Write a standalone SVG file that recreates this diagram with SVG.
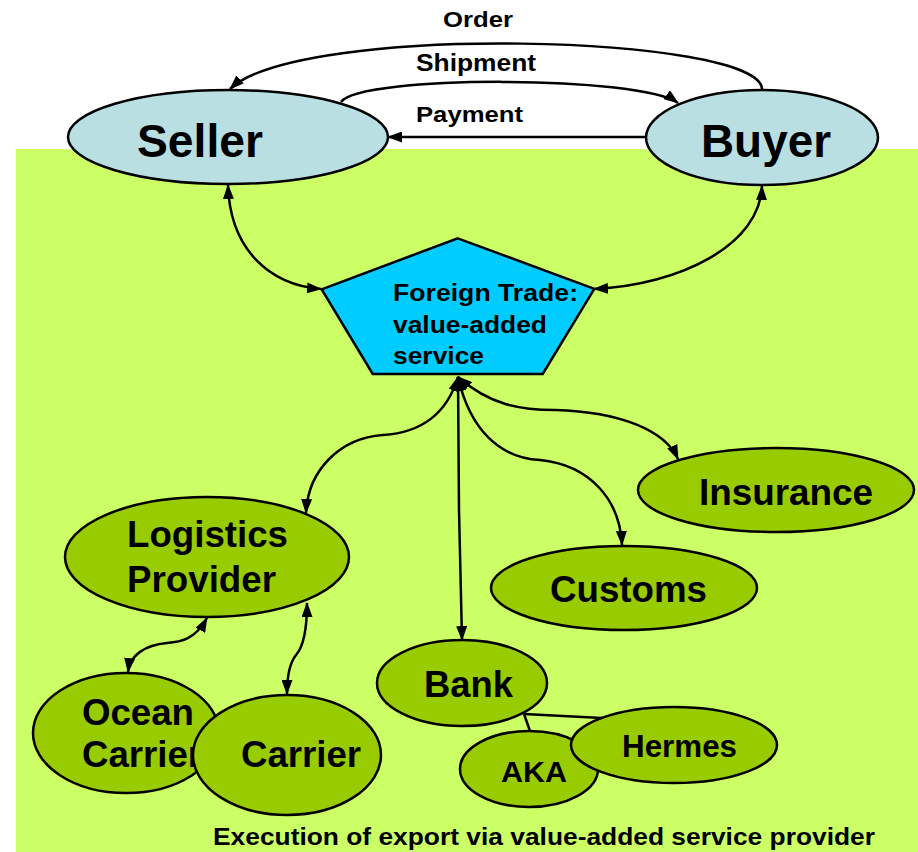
<svg xmlns="http://www.w3.org/2000/svg" width="918" height="852" viewBox="0 0 918 852">
<defs>
<marker id="ah" viewBox="0 0 15 11" refX="14" refY="5.5" markerWidth="15" markerHeight="11" markerUnits="userSpaceOnUse" orient="auto-start-reverse">
<path d="M0,0 L15,5.5 L0,11 z" fill="#000"/>
</marker>
<style>
.t{font-family:"Liberation Sans",Arial,sans-serif;font-weight:bold;fill:#000}
.top{fill:#B9DFE3;stroke:#000;stroke-width:2.5}
.g{fill:#99CC00;stroke:#000;stroke-width:2.5}
.c{fill:none;stroke:#000;stroke-width:2.5}
.a2{marker-start:url(#ah);marker-end:url(#ah)}
.a1{marker-end:url(#ah)}
</style>
</defs>
<rect x="0" y="0" width="918" height="852" fill="#FFFFFF"/>
<rect id="area" x="16" y="149" width="902" height="703" fill="#CCFF66"/>
<g id="seller"><ellipse class="top" cx="228" cy="137" rx="160" ry="47"/><text class="t" x="137" y="157" font-size="46" textLength="126" lengthAdjust="spacingAndGlyphs">Seller</text></g>
<g id="buyer"><ellipse class="top" cx="762" cy="137.5" rx="116" ry="47.5"/><text class="t" x="701" y="157" font-size="46" textLength="130" lengthAdjust="spacingAndGlyphs">Buyer</text></g>
<g id="foreign-trade"><polygon points="457.7,238.3 594.3,288.8 542.7,374 372.7,374 321.7,289.3" fill="#00CCFF" stroke="#000" stroke-width="2.5"/>
<text class="t" font-size="24"><tspan x="393" y="301" textLength="185" lengthAdjust="spacingAndGlyphs">Foreign Trade:</tspan><tspan x="393" y="333" textLength="154" lengthAdjust="spacingAndGlyphs">value-added</tspan><tspan x="393" y="364" textLength="91" lengthAdjust="spacingAndGlyphs">service</tspan></text></g>
<g id="logistics"><ellipse class="g" cx="207" cy="557" rx="142" ry="60"/><text class="t" font-size="36"><tspan x="127" y="547" textLength="161" lengthAdjust="spacingAndGlyphs">Logistics</tspan><tspan x="127" y="592" textLength="149" lengthAdjust="spacingAndGlyphs">Provider</tspan></text></g>
<g id="insurance"><ellipse class="g" cx="776" cy="490" rx="138" ry="42"/><text class="t" x="699" y="505" font-size="36" textLength="174" lengthAdjust="spacingAndGlyphs">Insurance</text></g>
<g id="customs"><ellipse class="g" cx="624" cy="588" rx="133" ry="42"/><text class="t" x="550" y="602" font-size="36" textLength="157" lengthAdjust="spacingAndGlyphs">Customs</text></g>
<g id="bank"><ellipse class="g" cx="462" cy="683" rx="85" ry="43"/><text class="t" x="424" y="697" font-size="36" textLength="89" lengthAdjust="spacingAndGlyphs">Bank</text></g>
<g id="ocean-carrier"><ellipse class="g" cx="126" cy="733" rx="93" ry="60"/><text class="t" font-size="36"><tspan x="82" y="725" textLength="112" lengthAdjust="spacingAndGlyphs">Ocean</tspan><tspan x="82" y="767" textLength="120" lengthAdjust="spacingAndGlyphs">Carrier</tspan></text></g>
<g id="carrier"><ellipse class="g" cx="287" cy="755" rx="94" ry="60"/><text class="t" x="241" y="767" font-size="36" textLength="120" lengthAdjust="spacingAndGlyphs">Carrier</text></g>
<g id="aka"><ellipse class="g" cx="529" cy="769" rx="69" ry="38"/><text class="t" x="501" y="782" font-size="30" textLength="66" lengthAdjust="spacingAndGlyphs">AKA</text></g>
<g id="hermes"><ellipse class="g" cx="674" cy="745" rx="103" ry="38"/><text class="t" x="622" y="757" font-size="31" textLength="115" lengthAdjust="spacingAndGlyphs">Hermes</text></g>
<g id="connectors">
<path class="c a1" d="M762,89 C760,35 300,22 230,89"/>
<path class="c a1" d="M341,102 C360,75 640,75 678,103"/>
<path class="c a1" d="M646,137 L388,137"/>
<path class="c a2" d="M228,185 C230,250 270,285 321,289"/>
<path class="c a2" d="M762,186 C760,245 680,285 594,289"/>
<path class="c a2" d="M458,377 C445,420 415,433 383,435 C340,438 308,470 306,513"/>
<path class="c a2" d="M458,377 L459,510 L462,640"/>
<path class="c a2" d="M458,377 C470,430 500,458 540,460 C590,465 620,500 622,545"/>
<path class="c a2" d="M458,377 C490,405 520,410 555,410 C620,412 665,430 678,459"/>
<path class="c a2" d="M207,618 C195,640 180,642 167,643 C145,645 130,655 128,672"/>
<path class="c a2" d="M307,603 C307,625 305,645 296,655 C288,665 287,680 287,694"/>
<path class="c" d="M524,714 L530,731"/>
<path class="c" d="M524,714 L602,718"/>
</g>
<g id="labels">
<text class="t" x="443" y="27" font-size="22" textLength="70" lengthAdjust="spacingAndGlyphs">Order</text>
<text class="t" x="416" y="71" font-size="23" textLength="120" lengthAdjust="spacingAndGlyphs">Shipment</text>
<text class="t" x="416" y="122" font-size="22" textLength="107" lengthAdjust="spacingAndGlyphs">Payment</text>
<text class="t" x="213" y="845" font-size="24" textLength="662" lengthAdjust="spacingAndGlyphs">Execution of export via value-added service provider</text>
</g>
</svg>
